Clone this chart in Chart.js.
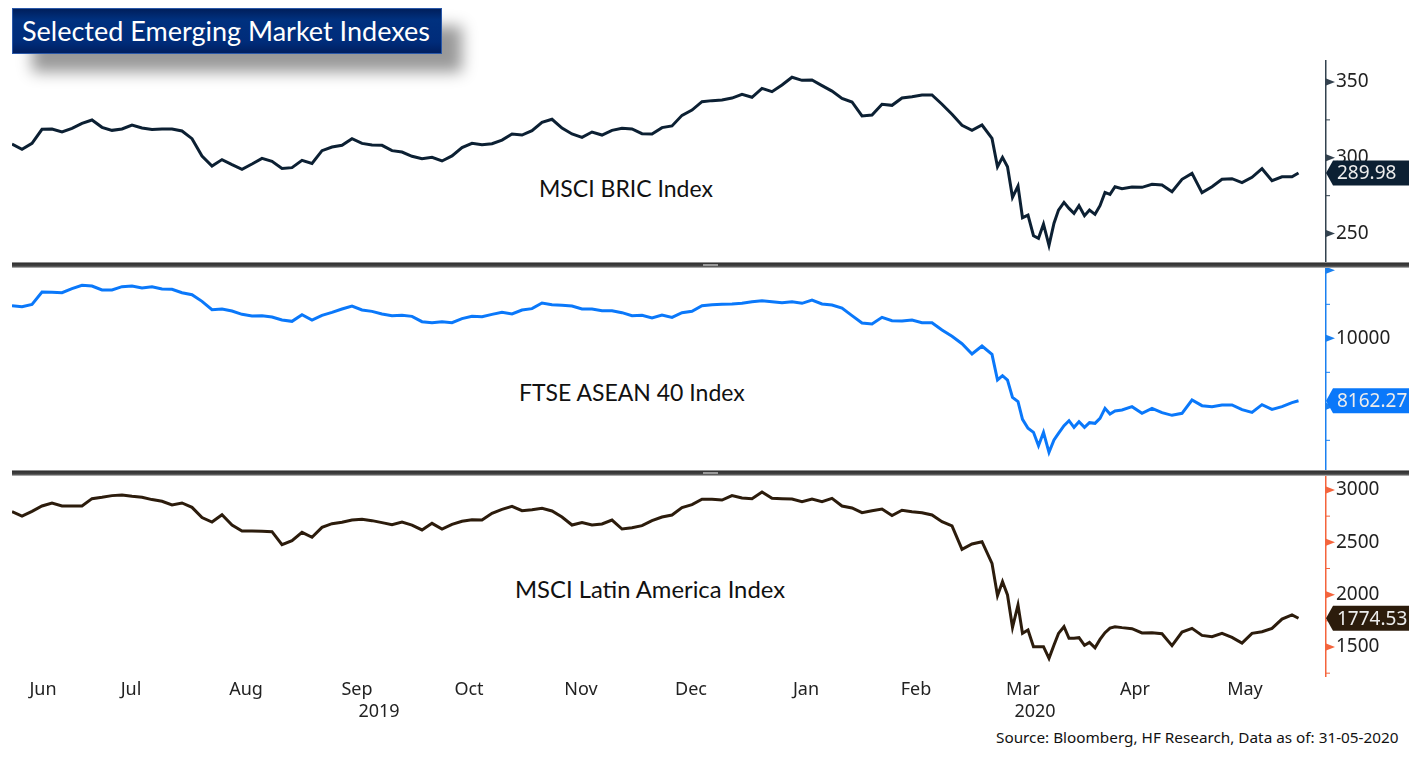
<!DOCTYPE html>
<html>
<head>
<meta charset="utf-8">
<title>Selected Emerging Market Indexes</title>
<script src="https://cdn.jsdelivr.net/npm/chart.js@4"></script>
<style>
    html, body { margin: 0; padding: 0; background: #fff; overflow: hidden; }
    body { width: 1409px; height: 758px; position: relative; }
    canvas { position: absolute; left: 0; }
    .note { position: absolute; white-space: nowrap; font-family: Lato, sans-serif; color: #111; }
    #title {
        position: absolute; left: 12px; top: 8px; width: 430px; height: 46px; box-sizing: border-box;
        background: linear-gradient(#001f5c, #00317f 25%, #002c7a 75%, #001f60);
        border: 1px solid #2a58a8;
        box-shadow: 20px 18px 15px #999;
        color: #fff; font-family: Lato, sans-serif; font-size: 27px; line-height: 44px; padding-left: 9px; white-space: nowrap;
    }
    .band {
        position: absolute; left: 12px; right: 0; height: 6px;
        background: linear-gradient(#bbb, #333 25%, #444 70%, #ccc);
    }
    .grip { position: absolute; left: 691px; width: 15px; height: 2px; top: 2px; background: #999; }
</style>
</head>
<body>

<div id="title">Selected Emerging Market Indexes</div>
<div class="note" style="left:539px; top:174px; font-size:23px;">MSCI BRIC Index</div>
<div class="note" style="left:519px; top:378px; font-size:23px;">FTSE ASEAN 40 Index</div>
<div class="note" style="left:515px; top:575px; font-size:23.8px;">MSCI Latin America Index</div>
<div class="note" style="left:996px; top:727px; font-size:15.3px; font-family:'Noto Sans';">Source: Bloomberg, HF Research, Data as of: 31-05-2020</div>

<canvas id="bricChart" width="1409" height="203" style="top:60px"></canvas>
<canvas id="aseanChart" width="1409" height="202" style="top:268px"></canvas>
<canvas id="latamChart" width="1409" height="251" style="top:475px"></canvas>

<div class="band" style="top:262px"><div class="grip"></div></div>
<div class="band" style="top:470px"><div class="grip"></div></div>

<script>
// x position of every reading, in trading sessions from the start of the chart
const sessions = [
    0,2,4,6,8,10,12,14,16,18,20,22,24,26,28,30,32,34,36,38,40,42,44,46,48,50,52,54,56,58,60,62,64,
    66,68,70,72,74,76,78,80,82,84,86,88,90,92,94,96,98,100,102,104,106,108,110,112,114,116,118,120,
    122,124,126,128,130,132,134,136,138,140,142,144,146,148,150,152,154,156,158,160,162,164,166,168,
    170,172,174,176,178,180,182,184,186,188,190,192,194,
    196,197.1,198.1,199.1,200.1,201.2,202.1,203.2,204.3,205.3,206.3,207.4,208.4,209.3,210.4,
    211.4,212.4,213.4,214.5,215.5,216.6,217.6,218.6,219.6,220.6,
    222,224,226,228,230,232,234,236,238,240,242,244,246,248,250,252,254,256,257.3
];

const bricValues = [
    309.1,305.6,309.5,318.8,319,317,319.4,322.7,324.9,320.1,318.1,319,321.6,319.7,318.6,319,319,317.7,312.6,301.2,
    294.6,298.8,295.5,292.4,295.9,299.6,297.7,293,293.5,298.3,296.3,304.7,307.1,308.2,312.6,309.5,308.4,308.2,304.7,303.8,
    301,299.4,300.3,297.9,301.2,306.7,
    309.5,308.6,309.3,311.7,315.7,315,317.9,323.4,325.4,319.6,315.7,313.5,317,315,318.1,319.4,319,315.9,315.7,319.9,
    321,328,331.5,337,337.7,338.1,339.4,341.9,339.9,345.8,343.6,348,353.1,351.1,351.3,347.6,344,339.2,336.8,327.6,
    328.2,335.3,334.6,339.4,340.3,341.4,341.4,335.3,
    328.7,321.4,318.1,321.6,
    312.8,294.1,300.3,294.1,273.9,281.4,260.5,262.2,248.6,246.9,256.3,242.2,256.8,265.5,270.6,
    266.6,263.3,268.4,261.8,265.5,262.7,268.4,277.2,275.9,280.9,
    279.6,280.7,280.5,282.5,282,277.6,285.8,289.7,277,280.9,285.8,286.2,283.6,287.1,292.8,
    284.9,287.5,287.5,289.98
];

const aseanValues = [
    10960,10931,10999,11362,11352,11342,11460,11558,11538,11421,11421,11519,11538,11480,11519,11450,11440,11342,11283,11087,
    10842,10862,10803,10705,10656,10666,10627,10538,10499,10695,10538,10676,10764,10862,10950,10833,10793,10715,10666,10676,
    10646,10489,10460,10489,10460,10578,10646,
    10637,10705,10764,10715,10833,10872,11039,10990,10970,10950,10862,10862,10813,10813,10754,10666,10676,10597,10686,10617,
    10754,10793,10960,10990,11000,11009,11029,11078,11107,11078,11048,11078,11029,11127,11009,10980,10891,10666,10450,10421,
    10617,10519,10509,10539,10460,10460,10244,
    10058,9842,9539,9774,
    9529,8774,8901,8774,8264,8137,7617,7353,7235,6843,7235,6647,7009,7205,7431,
    7578,7382,7549,7382,7519,7500,7647,7941,7774,7862,
    7892,7990,7794,7941,7813,7735,7794,8186,8019,7990,8039,8039,7901,7823,8049,
    7911,7990,8107,8162.27
];

const latamValues = [
    2793,2751,2796,2847,2876,2847,2847,2847,2917,2930,2946,2952,2939,2930,2908,2892,2857,2876,2834,2736,
    2694,2764,2665,2608,2608,2605,2602,2478,2516,2595,2548,2643,2678,2691,2713,2720,2707,2688,2669,2694,
    2665,2618,2681,2627,2672,2701,2716,
    2713,2777,2815,2844,2802,2812,2825,2799,2742,2665,2688,2665,2675,2713,2627,2640,2659,2707,2742,2761,
    2831,2860,2911,2911,2904,2946,2923,2917,2981,2920,2917,2914,2888,2914,2888,2920,2847,2828,2783,2802,
    2818,2755,2806,2793,2783,2761,2697,
    2656,2433,2484,2506,
    2299,1990,2124,1997,1688,1901,1630,1662,1503,1503,1503,1392,1519,1630,1694,
    1583,1583,1589,1516,1544,1493,1573,1637,1681,1694,
    1685,1675,1634,1637,1627,1513,1643,1678,1611,1598,1630,1592,1538,1630,1646,
    1678,1767,1806,1774.53
];

const bricTicks = [250, 275, 300, 325, 350];
const aseanTicks = [7000, 8000, 9000, 10000, 11000, 12000];
const latamTicks = [1250, 1500, 1750, 2000, 2250, 2500, 2750, 3000];

const monthLabels = ['Jun', 'Jul', 'Aug', 'Sep', 'Oct', 'Nov', 'Dec', 'Jan', 'Feb', 'Mar', 'Apr', 'May'];
const monthTicks = [6.2, 23.8, 46.8, 69, 91.4, 113.8, 135.8, 158.8, 180.8, 202.2, 224.6, 246.6];
const yearLabels = ['2019', '2020'];
const yearTicks = [73.4, 204.6];

const fontName = "'Noto Sans', sans-serif";

// Bloomberg style axis marks and the last value tag at the right of each panel
const axisDecor = {
    id: 'axisDecor',
    afterDraw: function(chart, args, opts){
        const ctx = chart.ctx;
        const y = chart.scales.y;
        const left = chart.chartArea.right;

        ctx.save();
        ctx.fillStyle = opts.axisColor;
        ctx.strokeStyle = opts.axisColor;
        ctx.lineWidth = 1;

        opts.ticks.forEach(function(v){
            const py = y.getPixelForValue(v);
            if(opts.major.indexOf(v) >= 0){
                ctx.beginPath();
                ctx.moveTo(left, py - 3.5);
                ctx.lineTo(left + 9, py);
                ctx.lineTo(left, py + 3.5);
                ctx.closePath();
                ctx.fill();
            } else {
                ctx.beginPath();
                ctx.moveTo(left, py);
                ctx.lineTo(left + 4, py);
                ctx.stroke();
            }
        });

        // value tag
        const tagY = y.getPixelForValue(opts.last);
        ctx.fillStyle = opts.tagColor;
        ctx.beginPath();
        ctx.moveTo(left, tagY);
        ctx.lineTo(left + 7, tagY - 12.5);
        ctx.lineTo(1409, tagY - 12.5);
        ctx.lineTo(1409, tagY + 12.5);
        ctx.lineTo(left + 7, tagY + 12.5);
        ctx.closePath();
        ctx.fill();

        ctx.fillStyle = '#ececec';
        ctx.font = '19px ' + fontName;
        ctx.textBaseline = 'middle';
        ctx.textAlign = 'left';
        ctx.fillText(opts.last.toFixed(2), left + 11, tagY + 1);
        ctx.restore();
    }
};

function drawPanel(id, values, yMin, yMax, ticks, major, lineColor, lineWidth, axisColor, tagColor, showMonths){

    const config = {
        type: 'line',
        data: {
            labels: sessions,
            datasets: [{
                data: sessions.map(function(s, i){ return {x: s, y: values[i]}; }),
                borderColor: lineColor,
                borderWidth: lineWidth,
                pointRadius: 0,
                tension: 0,
                fill: false
            }]
        },
        options: {
            responsive: false,
            animation: false,
            devicePixelRatio: 1,
            layout: {padding: {left: 12, right: 0, top: 0, bottom: 0}},
            plugins: {
                legend: {display: false},
                tooltip: {enabled: false},
                axisDecor: {
                    axisColor: axisColor,
                    tagColor: tagColor,
                    ticks: ticks,
                    major: major,
                    last: values[values.length - 1]
                }
            },
            scales: {
                x: {
                    type: 'linear',
                    min: 0,
                    max: 262.8,
                    display: showMonths,
                    grid: {display: false, drawTicks: false},
                    border: {display: false},
                    afterBuildTicks: function(scale){
                        scale.ticks = monthTicks.concat(yearTicks).map(function(v){ return {value: v}; });
                    },
                    afterFit: function(scale){
                        scale.height = showMonths ? 50 : 0;
                        scale.paddingLeft = 0;
                        scale.paddingRight = 0;
                    },
                    ticks: {
                        autoSkip: false,
                        maxRotation: 0,
                        minRotation: 0,
                        padding: 3,
                        color: '#222',
                        font: {family: fontName, size: 18, lineHeight: 1.2},
                        callback: function(value, index){
                            if(index < monthLabels.length) return monthLabels[index];
                            return ['', yearLabels[index - monthLabels.length]];
                        }
                    }
                },
                y: {
                    position: 'right',
                    min: yMin,
                    max: yMax,
                    grid: {display: false, drawTicks: false},
                    border: {display: true, color: axisColor, width: 1.5},
                    afterBuildTicks: function(scale){
                        scale.ticks = ticks.map(function(v){ return {value: v}; });
                    },
                    afterFit: function(scale){
                        scale.width = 83;
                        scale.paddingTop = 0;
                        scale.paddingBottom = 0;
                    },
                    ticks: {
                        padding: 10,
                        color: '#222',
                        font: {family: fontName, size: 19},
                        callback: function(value){
                            return major.indexOf(value) >= 0 && value !== 12000 && value !== 8000 ? String(value) : '';
                        }
                    }
                }
            }
        },
        plugins: [axisDecor]
    };

    return new Chart(document.getElementById(id), config);
}

const bricChart = drawPanel('bricChart', bricValues, 230.6, 364.5, bricTicks, [250, 300, 350], '#0c2033', 3, '#33424f', '#0c2033', false);
const aseanChart = drawPanel('aseanChart', aseanValues, 6127, 12068, aseanTicks, [8000, 10000, 12000], '#0a78fa', 3, '#1a80f0', '#0a78fa', false);
const latamChart = drawPanel('latamChart', latamValues, 1223, 3143, latamTicks, [1500, 2000, 2500, 3000], '#2c1c0c', 3, '#f4643c', '#2c1c0c', true);
</script>
</body>
</html>
